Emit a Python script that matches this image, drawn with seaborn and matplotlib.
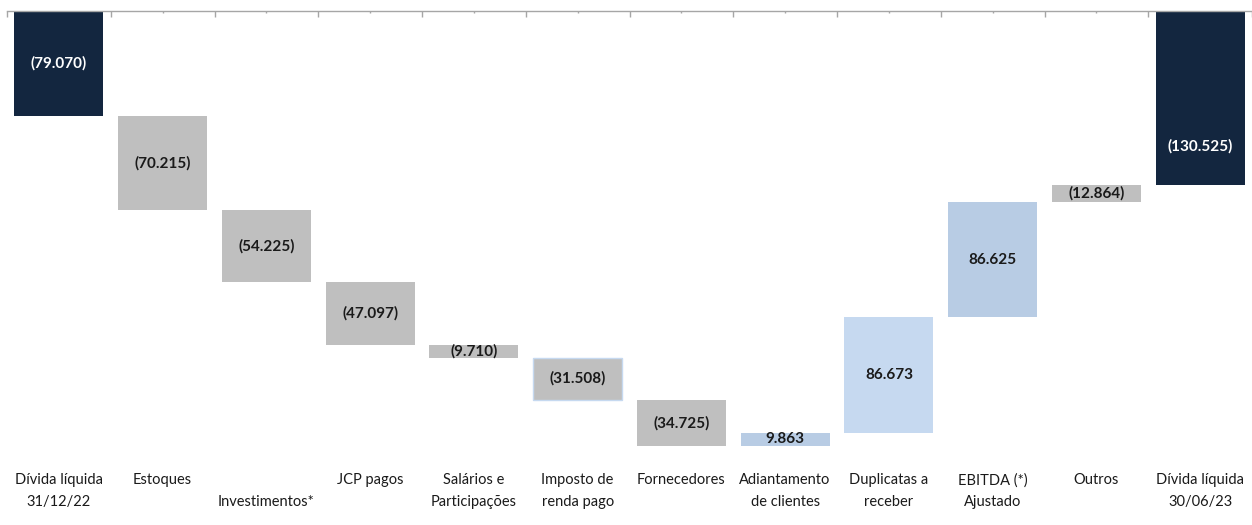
import numpy as np
import pandas as pd
import matplotlib
matplotlib.use("Agg")
import matplotlib.pyplot as plt
import seaborn as sns

categories = ["Dívida líquida\n31/12/22", "Estoques", "\nInvestimentos*", "JCP pagos",
              "Salários e\nParticipações", "Imposto de\nrenda pago", "Fornecedores",
              "Adiantamento\nde clientes", "Duplicatas a\nreceber", "EBITDA (*)\nAjustado",
              "Outros", "Dívida líquida\n30/06/23"]
# change in net debt (positive = debt increases); totals at both ends
changes = [79.070, 70.215, 54.225, 47.097, 9.710, 31.508, 34.725,
           -9.863, -86.673, -86.625, -12.864, 130.525]
value_labels = ["(79.070)", "(70.215)", "(54.225)", "(47.097)", "(9.710)", "(31.508)",
                "(34.725)", "9.863", "86.673", "86.625", "(12.864)", "(130.525)"]
kinds = ["total", "neg", "neg", "neg", "neg", "neg", "neg",
         "pos1", "pos2", "pos3", "neg", "total"]

colors = {"total": "#13263F", "neg": "#BFBFBF", "pos1": "#B8CCE4",
          "pos2": "#C6D9F0", "pos3": "#B8CCE4"}

# waterfall geometry
starts, ends = [], []
cum = 0.0
for i, (c, k) in enumerate(zip(changes, kinds)):
    if k == "total":
        starts.append(0.0)
        ends.append(c)
        cum = c
    else:
        starts.append(cum)
        cum = cum + c
        ends.append(cum)
bottoms = [min(s, e) for s, e in zip(starts, ends)]
heights = [abs(e - s) for s, e in zip(starts, ends)]
ymax = max(max(starts), max(ends))

df = pd.DataFrame({"cat": range(len(categories)), "h": heights})

sns.set_theme(style="white")
plt.rcParams["font.family"] = ["Lato", "DejaVu Sans"]

fig = plt.figure(figsize=(12.52, 5.25), dpi=100)
ax = fig.add_axes([7 / 1252, 79 / 525, 1245 / 1252, 435 / 525])

sns.barplot(data=df, x="cat", y="h", ax=ax, width=0.86, color="#BFBFBF",
            saturation=1, native_scale=False)

for i, p in enumerate(ax.patches):
    p.set_y(bottoms[i])
    p.set_facecolor(colors[kinds[i]])
    p.set_edgecolor("none")
    p.set_linewidth(0)
ax.patches[5].set_edgecolor("#C6D9F0")
ax.patches[5].set_linewidth(1.0)

label_frac = [0.5] * len(categories)
label_frac[-1] = 0.78
for i in range(len(categories)):
    y = bottoms[i] + heights[i] * label_frac[i]
    col = "white" if kinds[i] == "total" else "#1a1a1a"
    ax.text(i, y, value_labels[i], ha="center", va="center", fontsize=11,
            fontweight="bold", color=col)

ax.set_ylim(ymax, 0)
ax.set_xlim(-0.5, len(categories) - 0.5)
ax.set_yticks([])
ax.set_ylabel("")
ax.set_xlabel("")
ax.set_xticks(range(len(categories)))
ax.set_xticklabels(categories, fontsize=10.5, color="#1a1a1a", linespacing=1.7)
ax.tick_params(axis="x", length=0, pad=19.5, bottom=False, top=False)

for s in ["left", "right", "bottom"]:
    ax.spines[s].set_visible(False)
ax.spines["top"].set_visible(True)
ax.spines["top"].set_color("#A6A6A6")
ax.spines["top"].set_linewidth(1.0)

sec = ax.secondary_xaxis("top")
sec.set_xticks(np.arange(-0.5, len(categories), 1.0))
sec.set_xticklabels([])
sec.tick_params(axis="x", direction="in", length=4, color="#A6A6A6", width=1)
sec.set_xticks(np.arange(0, len(categories), 1.0), minor=True)
sec.tick_params(axis="x", which="minor", direction="in", length=1.5,
                color="#A6A6A6", width=1)
sec.spines["top"].set_visible(False)

fig.savefig("out.png", dpi=100, facecolor="white")
